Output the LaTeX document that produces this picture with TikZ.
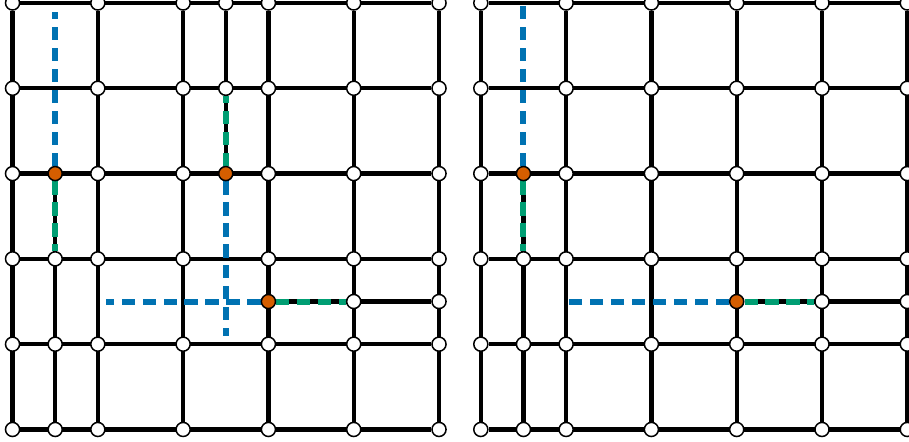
\documentclass[tikz,border=0pt]{standalone}
\usetikzlibrary{backgrounds}
\definecolor{ptblue}{HTML}{0072B2}
\definecolor{ptgreen}{HTML}{009E73}
\definecolor{ptorange}{HTML}{D55E00}
\begin{document}
\begin{tikzpicture}[
    vtx/.style={circle, draw=black, line width=0.5pt, fill=white, inner sep=0pt, minimum size=4.7pt},
    hang/.style={vtx, fill=ptorange},
    gridline/.style={line width=1.4pt},
    constr/.style={line width=2pt, dash pattern=on 4.4pt off 2.6pt}]
    \useasboundingbox (-0.147,-0.147) rectangle (10.51,5.035);
    \foreach \g/\ox in {L/0, R/5.49}
        \foreach \i in {0,2,...,10}
            \foreach \j in {0,2,...,10}
                \node[vtx] (\g\i-\j) at (\ox+\i/2,\j/2) {};
    \foreach \j in {0,2,4} {
        \node[vtx] (L1-\j) at (0.5,\j/2) {};
        \node[vtx] (R1-\j) at (5.99,\j/2) {};
    }
    \node[hang] (L1-6) at (0.5,3) {};
    \node[hang] (R1-6) at (5.99,3) {};
    \foreach \j in {8,10} \node[vtx] (L5-\j) at (2.5,\j/2) {};
    \node[hang] (L5-6) at (2.5,3) {};
    \node[hang] (L6-3) at (3,1.5) {};
    \node[hang] (R6-3) at (8.49,1.5) {};
    \foreach \i in {8,10} {
        \node[vtx] (L\i-3) at (\i/2,1.5) {};
        \node[vtx] (R\i-3) at (5.49+\i/2,1.5) {};
    }
    \coordinate (LendA) at (0.5,4.9);
    \coordinate (LendB) at (2.5,1.1);
    \coordinate (LendC) at (1.1,1.5);
    \coordinate (RendA) at (5.99,5);
    \coordinate (RendC) at (6.49,1.5);
    \begin{scope}[on background layer]
        \foreach \g in {L,R}
            \foreach \k in {0,2,...,10} {
                \draw[gridline] (\g0-\k) -- (\g10-\k);
                \draw[gridline] (\g\k-0) -- (\g\k-10);
            }
        \draw[gridline] (L1-0) -- (L1-6) (L5-6) -- (L5-10) (L6-3) -- (L10-3);
        \draw[gridline] (R1-0) -- (R1-6) (R6-3) -- (R10-3);
        \draw[constr, ptgreen] (L1-6) -- (L1-4) (L5-6) -- (L5-8) (L6-3) -- (L8-3);
        \draw[constr, ptgreen] (R1-6) -- (R1-4) (R6-3) -- (R8-3);
        \draw[constr, ptblue] (L1-6) -- (LendA) (L5-6) -- (LendB) (L6-3) -- (LendC);
        \draw[constr, ptblue] (R1-6) -- (RendA) (R6-3) -- (RendC);
    \end{scope}
\end{tikzpicture}
\end{document}
